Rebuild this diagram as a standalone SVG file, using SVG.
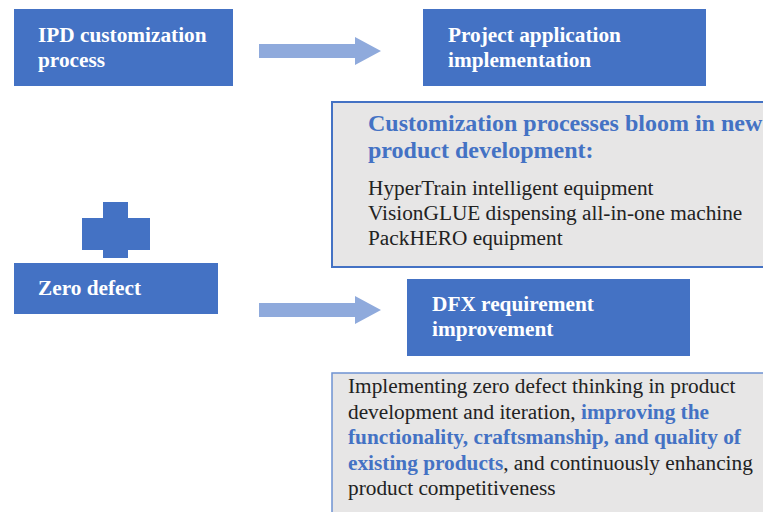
<svg xmlns="http://www.w3.org/2000/svg" width="763" height="512" viewBox="0 0 763 512">
<style>
.blue{fill:#4472C4}
.arrow{fill:#8FAADC}
.hd{font-family:"Liberation Serif","Times New Roman",serif;font-weight:bold;font-size:21.3px;fill:#FFFFFF}
.body{font-family:"Liberation Serif","Times New Roman",serif;font-size:21.3px;fill:#222222}
.ttl{font-family:"Liberation Serif","Times New Roman",serif;font-weight:bold;font-size:24px;fill:#4472C4}
.em{font-weight:bold;fill:#4472C4}
</style>
<rect width="763" height="512" fill="#FFFFFF"/>
<g id="connectors">
<polygon class="arrow" points="259,44 355,44 355,37 381,51 355,65 355,58 259,58"/>
<polygon class="arrow" points="259,303 355,303 355,296 381,310 355,324 355,317 259,317"/>
</g>
<g id="ipd">
<rect class="blue" x="14" y="9" width="219" height="77"/>
<text class="hd" x="38" y="42">IPD customization</text>
<text class="hd" x="38" y="67">process</text>
</g>
<g id="project">
<rect class="blue" x="423" y="9" width="283" height="77"/>
<text class="hd" x="448" y="42">Project application</text>
<text class="hd" x="448" y="67">implementation</text>
</g>
<g id="customization-box">
<rect x="332" y="102" width="500" height="165" fill="#E7E6E6" stroke="#4472C4" stroke-width="2"/>
<text class="ttl" x="368" y="131">Customization processes bloom in new</text>
<text class="ttl" x="368" y="158">product development:</text>
<text class="body" x="368" y="195">HyperTrain intelligent equipment</text>
<text class="body" x="368" y="220">VisionGLUE dispensing all-in-one machine</text>
<text class="body" x="368" y="245">PackHERO equipment</text>
</g>
<g id="plus">
<rect class="blue" x="103" y="202" width="25" height="56"/>
<rect class="blue" x="82" y="218" width="68" height="32"/>
</g>
<g id="zero-defect">
<rect class="blue" x="14" y="263" width="204" height="51"/>
<text class="hd" x="38" y="295">Zero defect</text>
</g>
<g id="dfx">
<rect class="blue" x="407" y="279" width="283" height="77"/>
<text class="hd" x="432" y="311">DFX requirement</text>
<text class="hd" x="432" y="336">improvement</text>
</g>
<g id="zero-defect-box">
<rect x="332" y="373" width="500" height="200" fill="#E7E6E6" stroke="#6F93D2" stroke-width="1.5"/>
<text class="body" x="348" y="393">Implementing zero defect thinking in product</text>
<text class="body" x="348" y="418.5">development and iteration, <tspan class="em">improving the</tspan></text>
<text class="body" x="348" y="444"><tspan class="em">functionality, craftsmanship, and quality of</tspan></text>
<text class="body" x="348" y="469.5"><tspan class="em">existing products</tspan>, and continuously enhancing</text>
<text class="body" x="348" y="495">product competitiveness</text>
</g>
</svg>
